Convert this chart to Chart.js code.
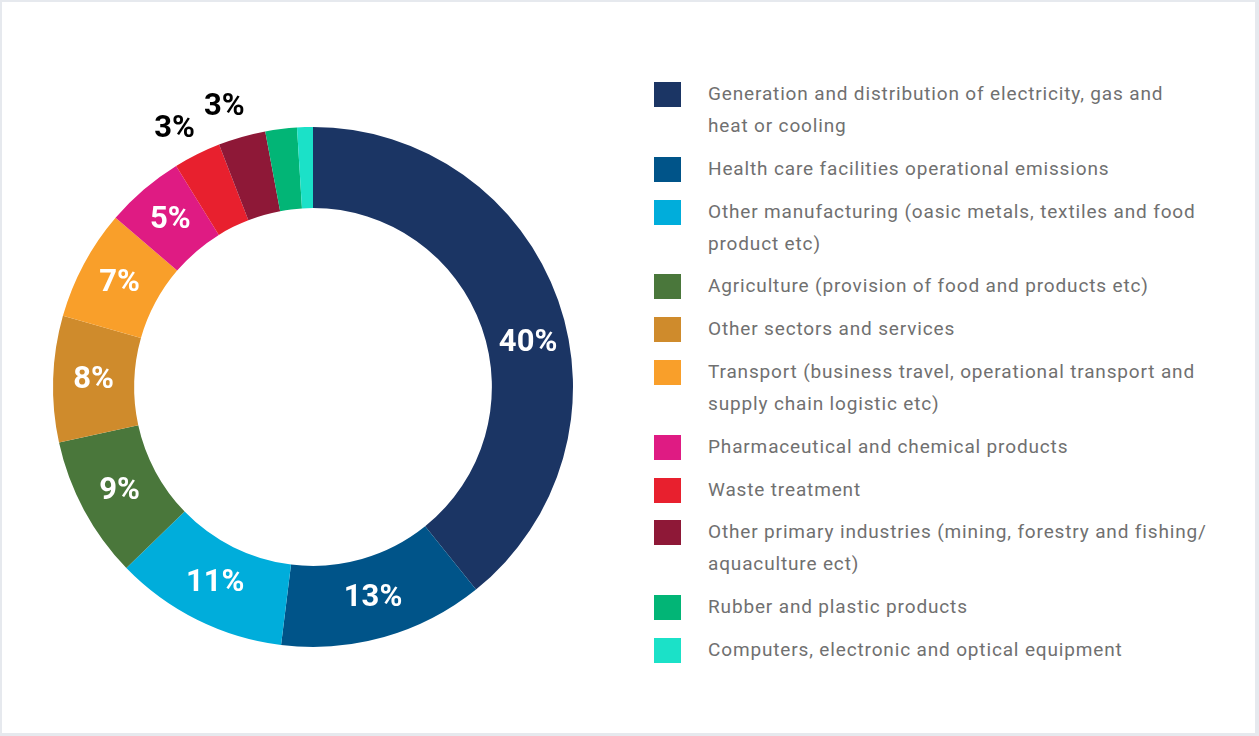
<!DOCTYPE html>
<html>
<head>
<meta charset="utf-8">
<script src="https://cdn.jsdelivr.net/npm/chart.js@4"></script>
<style>
  html, body { margin: 0; padding: 0; }
  body { width: 1259px; height: 736px; background: #e6e9ee; position: relative; overflow: hidden; }
  #card { position: absolute; left: 2px; top: 2px; width: 1253px; height: 731px; background: #fff; }
  #wrap { position: absolute; left: 13px; top: 67px; width: 600px; height: 640px; }
  #legend { position: absolute; left: 654px; top: 78px; font-family: Roboto, sans-serif; font-size: 19px; letter-spacing: 0.85px; color: #707070; }
  .item { display: flex; align-items: flex-start; margin-bottom: 10.8px; }
  .box { width: 27px; height: 25px; margin-top: 4px; margin-right: 27px; flex: none; }
  .txt { line-height: 32px; white-space: nowrap; }
</style>
</head>
<body>
<div id="card"></div>
<div id="wrap"><canvas id="donut"></canvas></div>
<div id="legend"></div>
<script>
  // sectors, with their line breaks as in the legend
  const sectors = [
    ["Generation and distribution of electricity, gas and", "heat or cooling"],
    ["Health care facilities operational emissions"],
    ["Other manufacturing (oasic metals, textiles and food", "product etc)"],
    ["Agriculture (provision of food and products etc)"],
    ["Other sectors and services"],
    ["Transport (business travel, operational transport and", "supply chain logistic etc)"],
    ["Pharmaceutical and chemical products"],
    ["Waste treatment"],
    ["Other primary industries (mining, forestry and fishing/", "aquaculture ect)"],
    ["Rubber and plastic products"],
    ["Computers, electronic and optical equipment"]
  ];
  const shares = [40, 13, 11, 9, 8, 7, 5, 3, 3, 2, 1];
  const colors = [
    "#1b3564", "#005489", "#00addb", "#4a773b", "#cf8b2c", "#f99f2a",
    "#df1b83", "#e8202e", "#8e1837", "#02b576", "#1be1c8"
  ];

  // legend
  const legend = document.getElementById("legend");
  sectors.forEach(function (lines, i) {
    const item = document.createElement("div");
    item.className = "item";
    const box = document.createElement("div");
    box.className = "box";
    box.style.background = colors[i];
    const txt = document.createElement("div");
    txt.className = "txt";
    txt.innerHTML = lines.join("<br>");
    item.appendChild(box);
    item.appendChild(txt);
    legend.appendChild(item);
  });

  // percentage labels on the slices
  const sliceLabels = {
    id: "sliceLabels",
    afterDatasetsDraw(chart) {
      const ctx = chart.ctx;
      const meta = chart.getDatasetMeta(0);
      ctx.save();
      ctx.font = "bold 31px Roboto, sans-serif";
      ctx.textAlign = "center";
      ctx.textBaseline = "middle";
      meta.data.forEach(function (arc, i) {
        const v = shares[i];
        if (v < 3) return;
        const p = arc.getProps(["x", "y", "startAngle", "endAngle", "innerRadius", "outerRadius"], true);
        let mid = (p.startAngle + p.endAngle) / 2;
        let r, color;
        if (v <= 3) {
          r = p.outerRadius + 33;
          mid -= 0.03;
          color = "#000";
        } else {
          r = (p.innerRadius + p.outerRadius) / 2;
          // the big slice keeps its label a little lower
          if (v > 30) mid += 0.14;
          color = "#fff";
        }
        ctx.fillStyle = color;
        ctx.fillText(v + "%", p.x + Math.cos(mid) * r, p.y + Math.sin(mid) * r);
      });
      ctx.restore();
    }
  };

  const ctx = document.getElementById("donut").getContext("2d");
  const donut = new Chart(ctx, {
    type: "doughnut",
    data: {
      labels: sectors.map(function (l) { return l.join(" "); }),
      datasets: [
        {
          data: shares,
          backgroundColor: colors,
          borderWidth: 0,
        },
      ],
    },
    options: {
      responsive: true,
      maintainAspectRatio: false,
      animation: false,
      cutout: "68.8%",
      layout: {
        padding: { left: 40, right: 40, top: 60, bottom: 60 },
      },
      plugins: {
        legend: { display: false },
        tooltip: { enabled: false },
      },
    },
    plugins: [sliceLabels],
  });
</script>
</body>
</html>
